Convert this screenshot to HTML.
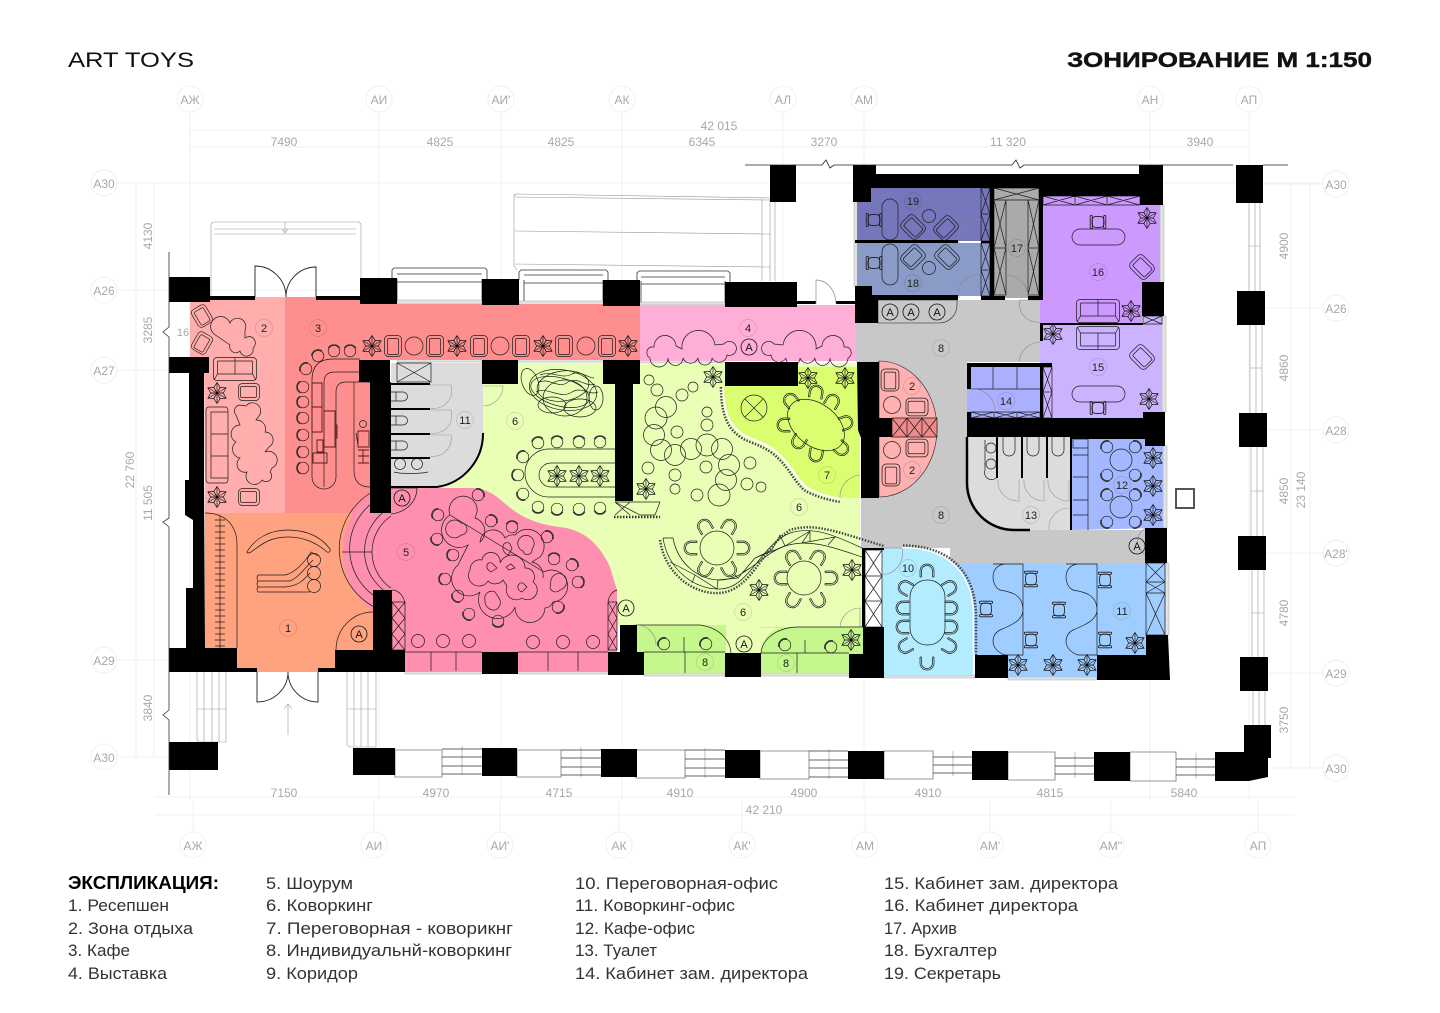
<!DOCTYPE html>
<html lang="ru"><head><meta charset="utf-8"><title>ART TOYS</title>
<style>
html,body{margin:0;padding:0;background:#fff;width:1440px;height:1013px;overflow:hidden}
svg{display:block}
.g{font-family:"Liberation Sans Narrow","Liberation Sans",sans-serif;font-size:12px;fill:#a8a8a8;text-anchor:middle}
.n{font-family:"Liberation Sans Narrow","Liberation Sans",sans-serif;font-size:11px;fill:#222;text-anchor:middle}
.l{font-family:"Liberation Sans","DejaVu Sans",sans-serif;font-size:17px;fill:#333}
.a{font-family:"Liberation Sans",sans-serif;font-size:11px;fill:#111;text-anchor:middle}
.f{fill:none;stroke:#1c1c1c;stroke-width:.7}
.t{fill:none;stroke:#999;stroke-width:.6}
.b{fill:#000}
.fa{fill:none;stroke:#f0f0f0;stroke-width:1}
.d{fill:none;stroke:#8a8a8a;stroke-width:.6}
</style></head><body>
<svg width="1440" height="1013" viewBox="0 0 1440 1013" xmlns="http://www.w3.org/2000/svg">
<defs>
<g id="fl" class="f"><path d="M0 0L-3.2-5.500L0-10.500L3.200-5.500ZM0-2V-10"/><path d="M0 0L-3.2-5.500L0-10.500L3.200-5.500ZM0-2V-10" transform="rotate(60)"/><path d="M0 0L-3.2-5.500L0-10.500L3.200-5.500ZM0-2V-10" transform="rotate(120)"/><path d="M0 0L-3.2-5.500L0-10.500L3.200-5.500ZM0-2V-10" transform="rotate(180)"/><path d="M0 0L-3.2-5.500L0-10.500L3.200-5.500ZM0-2V-10" transform="rotate(240)"/><path d="M0 0L-3.2-5.500L0-10.500L3.200-5.500ZM0-2V-10" transform="rotate(300)"/><circle r="1.300" fill="#000"/></g>
<g id="ac" class="f"><rect x="-8.500" y="-10.500" width="17" height="21" rx="4"/><rect x="-5.500" y="-7.500" width="11" height="16" rx="1.500"/></g>
<g id="st"><circle r="5.800" fill="none" stroke="#1c1c1c" stroke-width=".7"/><path d="M-5.800 2A6.300 6.300 0 0 1 2-5.800" fill="none" stroke="#333" stroke-width="1.700"/></g>
<g id="cr" class="f"><path d="M-7 5V-1A7 7 0 0 1 7-1V5M-5.500 5V-1A5.500 5.500 0 0 1 5.500-1V5M-7 5H-5.500M5.500 5H7"/></g>
<g id="oc" class="f" transform="scale(1.2)"><rect x="-5" y="-4.500" width="10" height="9" rx="3"/><rect x="-6.500" y="-5.500" width="1.800" height="11" rx=".9"/><rect x="4.700" y="-5.500" width="1.800" height="11" rx=".9"/></g>
<g id="sf" class="f"><rect x="-21.500" y="-11.500" width="43" height="23" rx="3.500"/><path d="M-17.500-8V5H17.500V-8M-17.500-8H17.500M0-11.500V5M-17.500 5L-21 11M17.500 5L21 11"/></g>
<g id="m"><circle r="8.500" fill="none" stroke="#000" stroke-opacity=".15" stroke-width=".7"/></g>
<g id="A"><circle r="8" fill="none" stroke="#111" stroke-width=".8"/></g>
</defs>

<!-- grid -->
<g class="fa">
<path d="M190 108V800M379 108V800M501 108V800M622 108V800M783 108V300M864 108V800M1150 108V800M1249 108V800"/>
<path d="M118 183H1320M118 290H360M118 370H170M118 660H170M118 757H170M1260 184H1325M1250 308H1325M1250 430H1325M1250 553H1325M1250 673H1325M1250 768H1325"/>
<path d="M190 130H1250M190 147H1250M155 797H1295M155 815H1295M136 183V757M154 183V757M1291 184V768M1310 184V768"/>
<path d="M193 800V836M374 800V836M500 800V836M619 800V836M742 800V836M865 800V836M990 800V836M1111 800V836M1258 800V836"/>
</g>
<g fill="#fff" stroke="#f0f0f0" stroke-width="1">
<circle cx="190" cy="99" r="13"/><circle cx="379" cy="99" r="13"/><circle cx="501" cy="99" r="13"/><circle cx="622" cy="99" r="13"/><circle cx="783" cy="99" r="13"/><circle cx="864" cy="99" r="13"/><circle cx="1150" cy="99" r="13"/><circle cx="1249" cy="99" r="13"/>
<circle cx="193" cy="845" r="13"/><circle cx="374" cy="845" r="13"/><circle cx="500" cy="845" r="13"/><circle cx="619" cy="845" r="13"/><circle cx="742" cy="845" r="13"/><circle cx="865" cy="845" r="13"/><circle cx="990" cy="845" r="13"/><circle cx="1111" cy="845" r="13"/><circle cx="1258" cy="845" r="13"/>
<circle cx="104" cy="183" r="13"/><circle cx="104" cy="290" r="13"/><circle cx="104" cy="370" r="13"/><circle cx="104" cy="660" r="13"/><circle cx="104" cy="757" r="13"/>
<circle cx="1336" cy="184" r="13"/><circle cx="1336" cy="308" r="13"/><circle cx="1336" cy="430" r="13"/><circle cx="1336" cy="553" r="13"/><circle cx="1336" cy="673" r="13"/><circle cx="1336" cy="768" r="13"/>
</g>
<g class="g">
<text x="190" y="104">АЖ</text><text x="379" y="104">АИ</text><text x="501" y="104">АИ'</text><text x="622" y="104">АК</text><text x="783" y="104">АЛ</text><text x="864" y="104">АМ</text><text x="1150" y="104">АН</text><text x="1249" y="104">АП</text>
<text x="193" y="850">АЖ</text><text x="374" y="850">АИ</text><text x="500" y="850">АИ'</text><text x="619" y="850">АК</text><text x="742" y="850">АК'</text><text x="865" y="850">АМ</text><text x="990" y="850">АМ'</text><text x="1111" y="850">АМ''</text><text x="1258" y="850">АП</text>
<text x="104" y="188">А30</text><text x="104" y="295">А26</text><text x="104" y="375">А27</text><text x="104" y="665">А29</text><text x="104" y="762">А30</text>
<text x="1336" y="189">А30</text><text x="1336" y="313">А26</text><text x="1336" y="435">А28</text><text x="1336" y="558">А28'</text><text x="1336" y="678">А29</text><text x="1336" y="773">А30</text>
<text x="719" y="130">42 015</text><text x="284" y="146">7490</text><text x="440" y="146">4825</text><text x="561" y="146">4825</text><text x="702" y="146">6345</text><text x="824" y="146">3270</text><text x="1008" y="146">11 320</text><text x="1200" y="146">3940</text>
<text x="284" y="797">7150</text><text x="436" y="797">4970</text><text x="559" y="797">4715</text><text x="680" y="797">4910</text><text x="804" y="797">4900</text><text x="928" y="797">4910</text><text x="1050" y="797">4815</text><text x="1184" y="797">5840</text><text x="764" y="814">42 210</text>
<text transform="translate(152,236) rotate(-90)">4130</text><text transform="translate(152,330) rotate(-90)">3285</text><text transform="translate(152,503) rotate(-90)">11 505</text><text transform="translate(152,708) rotate(-90)">3840</text><text transform="translate(134,470) rotate(-90)">22 760</text>
<text transform="translate(1288,246) rotate(-90)">4900</text><text transform="translate(1288,368) rotate(-90)">4860</text><text transform="translate(1288,491) rotate(-90)">4850</text><text transform="translate(1288,613) rotate(-90)">4780</text><text transform="translate(1288,720) rotate(-90)">3750</text><text transform="translate(1305,490) rotate(-90)">23 140</text>
<text x="183" y="336" font-size="11">16</text>
</g>

<!-- outside light elements -->
<g class="t">
<path d="M211 297V224L213 222H359L361 224V297M214 229H356M214 234H356M285 222V232M282 229L285 233L288 229"/>
<path d="M514 196L516 194L775 198M515 197L770 200M515 231L770 234M515 264L770 267M514 194V266L517 270M762 199V281M770 199V281M775 199V281"/>
<path d="M288 735V704M284 709L288 704L292 709"/>
<path d="M197 672V740L199 742H226V672M204 672V742M212 672V742M219 672V742M197 709H226"/>
<path d="M347 672V745L350 747H376V672M354 672V747M361 672V747M368 672V747M347 709H376"/>
<path d="M1249 203V291M1255 203V291M1260 203V291M1250 325V413M1256 325V413M1262 325V413M1251 447V536M1257 447V536M1263 447V536M1252 570V657M1258 570V657M1264 570V657M1253 691V725M1259 691V725M1265 691V725"/>
<path d="M1249 246H1260M1250 368H1262M1251 491H1263M1252 613H1264"/>
<path d="M462 746V775M581 747V777M705 748V778M829 749V779M953 751V776M1075 752V778M1196 753V779"/>
</g>
<g fill="none" stroke="#333" stroke-width=".8">
<path d="M392 279V270L394 268H485L487 270V279M397 274H482M397 282H482M397 279V300M482 279V300"/>
<path d="M519 280V272L521 270H606L608 272V280M524 275H603M524 283H603M524 280V301M603 280V301"/>
<path d="M637 281V273L639 271H728L730 273V282M641 277H725M641 284H725M641 281V302M725 281V302"/>
<path d="M395 750V777H442V750ZM517 750V777H561V750ZM636 750V778H685V750ZM760 751V779H809V751ZM884 751V779H933V751ZM1008 752V780H1055V752ZM1130 752V781H1176V752Z" stroke="#777"/>
<path d="M442 749H482M442 757H482M442 766H482M442 774H482M561 750H601M561 758H601M561 767H601M561 775H601M685 750H725M685 759H725M685 768H725M685 776H725M809 751H848M809 760H848M809 768H848M809 777H848M933 757H972M933 765H972M933 773H972M1055 758H1094M1055 766H1094M1055 774H1094M1176 759H1215M1176 767H1215M1176 775H1215"/>
</g>
<!-- window strips -->
<g fill="#e2e2e2" stroke="#999" stroke-width=".4">
<rect x="405" y="671" width="77" height="3"/><rect x="518" y="671" width="90" height="3"/><rect x="644" y="673" width="81" height="3"/><rect x="761" y="673" width="88" height="3"/><rect x="884" y="675" width="91" height="3"/><rect x="1008" y="677" width="89" height="3"/>
<rect x="854" y="203" width="4" height="83"/><rect x="1160" y="205" width="4" height="78"/><rect x="1162" y="316" width="4" height="96"/><rect x="1163" y="446" width="4" height="82"/><rect x="1165" y="563" width="4" height="72"/>
<rect x="397" y="359" width="85" height="3"/><rect x="518" y="359" width="85" height="3"/><rect x="640" y="360" width="85" height="3"/>
<rect x="397" y="300" width="85" height="4"/><rect x="519" y="301" width="84" height="4"/><rect x="640" y="302" width="85" height="3"/>
</g>

<!-- zones -->
<path fill="#e9ffb5" d="M440 363H860V548H862V654H636V625H617V590H440Z"/>
<path fill="#ffadad" d="M190 297H285V514H205L204 357H190Z"/>
<path fill="#ff8f8f" d="M285 297H361V304H640V360H372V514H285Z"/>
<path fill="#ffaed8" d="M640 305H857V361H640Z"/>
<path fill="#ffa280" d="M205 513H373V650H335V668H318V672H257V668H237V648H205Z"/>
<path fill="#ff8fae" d="M373 492L391 488H470C490 487 500 500 513 510C530 522 545 525 560 527C585 530 600 545 610 567L617 590V652H608V672H405V652H373V611A73.600 73.600 0 0 1 373 492Z"/>
<path fill="#dcdcdc" d="M391 363H483V433A54 54 0 0 1 437 487H391Z"/>
<path fill="#d9ff70" d="M726 386H798V367H857L860 430V498H840C830 498 816 493 806 487C795 477 790 462 774 450C760 440 750 437 741 433C730 425 725 413 724 387Z"/>
<path fill="#c8c8c8" d="M856 300H1040V362H967V483A47 47 0 0 0 1014 530H1146V563H950V548H861V498H880V362H856Z"/>
<path fill="#ffb0b0" stroke="#222" stroke-width=".6" d="M879 361A58 68 0 0 1 937 430A58 68 0 0 1 879 497Z"/>
<path fill="#c8c8c8" stroke="#222" stroke-width=".6" d="M878 300H957V305A18 18 0 0 1 939 323H878Z"/>
<path fill="#7676bd" d="M871 188H990V241H857V202H871Z"/>
<path fill="#8a9bc8" d="M857 243H990V296H871V286H857Z"/>
<path fill="#aaa" d="M994 188H1039V298H994Z"/>
<path fill="#cc99ff" d="M1043 196H1140V205H1160V283H1142V323H1040V300H1043Z"/>
<path fill="#ccb3ff" d="M1040 325H1143V316H1162V418H1040Z"/>
<path fill="#aab0ff" d="M967 363H1040V418H967Z"/>
<path fill="#ccb3ff" d="M1043 367H1052V418H1043Z"/>
<path fill="#dcdcdc" d="M969 437H1070V530H1014A47 47 0 0 1 967 483Z"/>
<path fill="#a3b8ff" d="M1072 439H1145V446H1163V528L1072 530Z"/>
<path fill="#a0cdff" d="M950 563H1165V635H1146V655H1097V677H1008V655H975Z"/>
<path fill="#b3ebff" d="M882 548H902C940 548 972 565 973 615V675H884V654H882Z"/>
<path fill="#c5f78c" d="M636 625H726V652H725V673H644V652H636ZM761 627H863V654H849V673H761Z"/>
<path fill="#e9ffb5" d="M726 628C735 632 742 640 744 650V653H726ZM761 653V650C763 640 768 632 779 628H761Z"/>

<!-- zone 2 furniture -->
<use href="#ac" transform="translate(202,316) rotate(-30) scale(.95)"/>
<use href="#ac" transform="translate(202,343) rotate(30) scale(.95)"/>
<path class="f" d="M214 334A10 10 0 1 1 230 323A8 8 0 0 1 245 330L245 338A6 6 0 0 1 253 348A6 6 0 0 1 240 351A6 6 0 0 1 230 345Z"/>
<use href="#sf" transform="translate(235,369)"/>
<use href="#fl" x="217" y="393"/><use href="#fl" x="217" y="497"/>
<use href="#ac" transform="translate(249,392) rotate(90) scale(1)"/><use href="#ac" transform="translate(249,497) rotate(90) scale(1)"/>
<path class="f" d="M206 410A3 3 0 0 1 209 407H225A3 3 0 0 1 228 410V480A3 3 0 0 1 225 483H209A3 3 0 0 1 206 480ZM211 412H228V478H211ZM211 434H228M211 456H228"/>
<path class="f" d="M236 415A6 6 0 0 1 240 405L246 406A8 8 0 0 1 259 416L256 420A9 9 0 0 1 265 432A8 8 0 0 1 269 447L265 452A7 7 0 0 1 272 468L270 472A5 5 0 0 1 262 480A8 8 0 0 1 247 472A8 8 0 0 1 240 458A9 9 0 0 1 236 442A9 9 0 0 1 240 425Z"/>

<!-- zone 3 furniture -->
<use href="#st" transform="translate(350,351) rotate(45)"/><use href="#st" transform="translate(334,351) rotate(45)"/><use href="#st" transform="translate(318,356) rotate(20)"/><use href="#st" transform="translate(306,369)"/><use href="#st" transform="translate(303,387) rotate(-45)"/><use href="#st" transform="translate(303,402) rotate(-45)"/><use href="#st" transform="translate(303,418) rotate(-45)"/><use href="#st" transform="translate(303,435) rotate(-45)"/><use href="#st" transform="translate(303,452) rotate(-45)"/><use href="#st" transform="translate(303,468) rotate(-45)"/>
<path class="f" d="M360 359H333Q312 359 312 380V477A12 12 0 0 0 336 477V392Q336 382 346 382H370M360 372H335Q324 372 324 382V411M324 447V487M354 382V470Q354 487 370 487"/>
<path fill="none" stroke="#5a1a1a" stroke-width=".9" d="M312 383H322V432H312ZM312 407H322M324 411H335V447H324ZM335 425H337V438H335ZM317 440H323V452H317ZM313 453H327V463H313ZM358 431H369V447H358ZM356 433L358 445M358 450H369M358 456H369M358 463H369M363 450V463"/>
<circle class="f" cx="363" cy="424" r="3.500"/>
<use href="#fl" x="372" y="346"/><use href="#fl" x="457" y="346"/><use href="#fl" x="543" y="346"/><use href="#fl" x="628" y="346"/>
<use href="#ac" x="393" y="346"/><use href="#ac" x="435" y="346"/><use href="#ac" x="479" y="346"/><use href="#ac" x="521" y="346"/><use href="#ac" x="564" y="346"/><use href="#ac" x="607" y="346"/>
<g class="f"><circle cx="414" cy="346" r="9"/><circle cx="500" cy="346" r="9"/><circle cx="586" cy="346" r="9"/></g>

<!-- zone 4 -->
<path class="f" d="M650 358A6 6 0 0 1 651 347L654 347A11 11 0 0 1 676 346L682 349A13 13 0 0 1 715 345L724 344A7 7 0 1 1 727 355A8 8 0 0 1 712 358A7 7 0 0 1 698 358A8 8 0 0 1 683 358A7 7 0 0 1 668 358A9 9 0 0 1 650 358Z"/>
<path class="f" transform="translate(1498,0) scale(-1,1)" d="M650 358A6 6 0 0 1 651 347L654 347A11 11 0 0 1 676 346L682 349A13 13 0 0 1 715 345L724 344A7 7 0 1 1 727 355A8 8 0 0 1 712 358A7 7 0 0 1 698 358A8 8 0 0 1 683 358A7 7 0 0 1 668 358A9 9 0 0 1 650 358Z"/>

<!-- toilet 11 -->
<g class="f">
<path d="M397 363H431V382H397ZM397 363L431 382M431 363L397 382"/>
<path d="M391 392H403A4.500 4.500 0 0 1 403 401H391M391 416H403A4.500 4.500 0 0 1 403 425H391M391 441H403A4.500 4.500 0 0 1 403 450H391M396 392V401M396 416V425M396 441V450"/>
<circle cx="400" cy="464" r="5.500"/><circle cx="417" cy="464" r="5.500"/>
<path d="M394 472C400 474 420 474 428 472"/>
</g>
<path class="b" d="M391 383H430V385H391ZM391 408H430V410H391ZM391 433H430V435H391ZM391 457H430V459H391Z"/>
<g class="t"><path d="M430 385H451A18 18 0 0 1 430 408M430 410H451A18 18 0 0 1 430 433M430 435H451A18 18 0 0 1 430 456M483 386H503A20 20 0 0 1 483 406"/></g>

<!-- zone 6 left table -->
<g class="f">
<path d="M525 473A24 24 0 0 1 549 449H615M549 497A24 24 0 0 1 525 473M549 497H615M551 463H615M551 487H615M551 463A12 12 0 0 0 551 487"/>
<ellipse cx="563" cy="390" rx="34" ry="20" transform="rotate(10 563 390)"/>
<ellipse cx="563" cy="386" rx="26" ry="15" transform="rotate(-8 563 386)"/>
<ellipse cx="560" cy="392" rx="30" ry="14" transform="rotate(15 560 392)"/>
<ellipse cx="565" cy="398" rx="22" ry="18"/>
<path d="M538 383C548 376 558 390 568 382C578 376 586 388 595 384M536 392C548 386 560 400 572 392C582 386 590 396 598 392M540 375C552 370 562 380 572 374C580 370 588 378 594 378"/>
<ellipse cx="552" cy="405" rx="14" ry="8"/><ellipse cx="580" cy="408" rx="16" ry="9"/><ellipse cx="530" cy="382" rx="8" ry="14" transform="rotate(-20 530 382)"/><ellipse cx="596" cy="398" rx="7" ry="12"/>
</g>
<use href="#fl" x="557" y="476"/><use href="#fl" x="579" y="476"/><use href="#fl" x="600" y="476"/>
<use href="#st" transform="translate(538,443) rotate(30)"/><use href="#st" transform="translate(557,442) rotate(45)"/><use href="#st" transform="translate(579,442) rotate(45)"/><use href="#st" transform="translate(600,442) rotate(45)"/><use href="#st" transform="translate(523,457)"/><use href="#st" transform="translate(518,475) rotate(-45)"/><use href="#st" transform="translate(523,494) rotate(-90)"/><use href="#st" transform="translate(538,507) rotate(225)"/><use href="#st" transform="translate(557,509) rotate(225)"/><use href="#st" transform="translate(579,509) rotate(225)"/><use href="#st" transform="translate(600,508) rotate(225)"/>
<path class="f" d="M615 502H660L655 515H640ZM615 502L630 515M630 502L615 515"/>
<path d="M614 517H660" fill="none" stroke="#333" stroke-width="2.500" stroke-dasharray="1.500 1.500"/>

<!-- circle cluster -->
<g class="f">
<circle cx="649" cy="380" r="5"/><circle cx="657" cy="390" r="6"/><circle cx="682" cy="395" r="6"/><circle cx="693" cy="387" r="5"/><circle cx="666" cy="407" r="10.500"/><circle cx="656" cy="418" r="11"/><circle cx="654" cy="435" r="10.500"/><circle cx="661" cy="450" r="10.500"/><circle cx="677" cy="432" r="6"/><circle cx="675" cy="455" r="10.500"/><circle cx="691" cy="449" r="10.500"/><circle cx="707" cy="445" r="11"/><circle cx="722" cy="449" r="10.500"/><circle cx="729" cy="465" r="10.500"/><circle cx="726" cy="480" r="10.500"/><circle cx="707" cy="412" r="5"/><circle cx="707" cy="425" r="6"/><circle cx="706" cy="467" r="6"/><circle cx="750" cy="463" r="6"/><circle cx="648" cy="468" r="6"/><circle cx="675" cy="475" r="6"/><circle cx="675" cy="489" r="5"/><circle cx="697" cy="495" r="6"/><circle cx="719" cy="495" r="11"/><circle cx="747" cy="484" r="6"/><circle cx="761" cy="487" r="5"/>
</g>
<use href="#fl" x="713" y="377"/><use href="#fl" x="808" y="378"/><use href="#fl" x="845" y="378"/><use href="#fl" x="646" y="489"/>
<!-- wave zone 7 border -->
<path d="M723 387C723 413 730 425 741 433C750 440 760 440 774 450C790 462 795 477 806 487C816 493 828 497 840 499" fill="none" stroke="#fff" stroke-width="2"/>
<path d="M721 387C721 415 728 428 739 436C748 443 758 443 772 453C788 465 793 480 804 490C814 496 828 500 840 502" fill="none" stroke="#444" stroke-width="2.500" stroke-dasharray="1.500 1.500"/>
<!-- zone 7 -->
<g class="f"><circle cx="754" cy="408" r="13"/><path d="M745 399L763 417M763 399L745 417"/>
<ellipse cx="816" cy="425" rx="32" ry="21" transform="rotate(38 816 425)"/></g>
<use href="#cr" transform="translate(791,401) rotate(-40)"/><use href="#cr" transform="translate(816,393) rotate(10)"/><use href="#cr" transform="translate(832,402) rotate(30)"/><use href="#cr" transform="translate(845,423) rotate(70)"/><use href="#cr" transform="translate(841,448) rotate(130)"/><use href="#cr" transform="translate(816,454) rotate(190)"/><use href="#cr" transform="translate(799,441) rotate(210)"/><use href="#cr" transform="translate(785,425) rotate(270)"/>
<!-- zone 6 lower -->
<g class="f"><circle cx="717" cy="548" r="17"/><circle cx="804" cy="578" r="17"/>
<path d="M663 538C668 570 695 590 720 589C750 588 760 545 790 533C815 525 840 538 862 548M663 538H673M673 538C678 565 700 580 720 580C745 580 760 555 785 546C810 538 835 548 862 557"/>
<path d="M670 562L695 575M692 583L695 575L717 589L718 580L738 578L735 575M738 578L755 558M742 573L750 568M755 558L772 550L780 535L785 546L810 531L802 543L835 537L828 545M810 531L810 542M755 558L785 546"/></g>
<path d="M660 540C665 575 695 595 720 593C752 590 762 548 790 530C815 522 840 533 884 546" fill="none" stroke="#444" stroke-width="2.500" stroke-dasharray="1.500 1.500"/>
<use href="#cr" transform="translate(705,527) rotate(-30)"/><use href="#cr" transform="translate(729,527) rotate(30)"/><use href="#cr" transform="translate(742,548) rotate(90)"/><use href="#cr" transform="translate(729,569) rotate(150)"/><use href="#cr" transform="translate(705,569) rotate(210)"/><use href="#cr" transform="translate(692,548) rotate(270)"/>
<use href="#cr" transform="translate(793,558) rotate(-30)"/><use href="#cr" transform="translate(818,558) rotate(30)"/><use href="#cr" transform="translate(830,578) rotate(90)"/><use href="#cr" transform="translate(818,600) rotate(150)"/><use href="#cr" transform="translate(793,600) rotate(210)"/><use href="#cr" transform="translate(782,578) rotate(270)"/>
<use href="#fl" x="852" y="570"/><use href="#fl" x="759" y="590"/><use href="#fl" x="851" y="640"/>

<!-- zone 5 -->
<g class="f">
<path d="M374 491A65.600 65.600 0 0 0 391 613M382 497A57.600 57.600 0 0 0 391 604M385 511A49.600 49.600 0 0 0 391 595M342 552H372"/>
<path d="M391 516A43.600 43.600 0 0 0 391 588M391 488H417C417 500 408 512 391 514"/>
<path d="M450 515A14 14 0 1 1 477 512L475 518A14 14 0 0 1 480 542A13 13 0 0 1 505 538A12 12 0 0 1 515 535A16 16 0 0 1 540 557L532 562A14 14 0 0 1 543 578M544 572A16 16 0 1 1 553 602A10 10 0 0 1 545 608A15 15 0 0 1 515 607A17 17 0 0 1 480 592A14 14 0 0 1 458 565L468 545A16 16 0 0 1 450 515Z"/>
<path d="M448 523A8.500 8.500 0 0 1 461 523A6 6 0 1 1 461 535A8.500 8.500 0 0 1 448 523ZM520 538A8 8 0 1 1 532 549A4.500 4.500 0 1 1 523 551A8 8 0 0 1 520 538ZM551 580A8 8 0 0 1 566 578A9 9 0 0 1 560 590A6 6 0 0 1 550 588ZM485 600A7 7 0 0 1 495 592L499 598A8 8 0 0 1 495 610A9 9 0 0 1 485 600Z"/>
<path d="M470 570A10 10 0 0 1 482 560A8 8 0 0 1 500 563A13 13 0 0 1 525 568A9 9 0 0 1 533 582A9 9 0 0 1 522 598A10 10 0 0 1 507 586L503 580A10 10 0 0 1 488 581A10 10 0 0 1 470 570Z"/>
<path d="M503 546A4 4 0 0 1 510 544L512 549L508 555Q502 552 503 546ZM487 565A3.500 3.500 0 0 1 493 564L497 568L491 572Q486 569 487 565ZM506 567L511 564L515 568L509 570ZM518 586A4 4 0 0 1 523 583L527 587L522 592Q517 590 518 586Z"/>
<circle cx="418" cy="641" r="6.500"/><circle cx="443" cy="641" r="6.500"/><circle cx="469" cy="641" r="6.500"/><circle cx="533" cy="642" r="6.500"/><circle cx="563" cy="642" r="6.500"/><circle cx="593" cy="642" r="6.500"/>
<path d="M431 652V671M456 652V671M548 652V671M578 652V671M405 652H482M518 652H608"/>
<path d="M392 590A13 16 0 0 1 405 606V650M392 602H405V650H392ZM392 602L405 618M405 602L392 618M392 618L405 634M405 618L392 634M392 634L405 650M405 634L392 650"/>
<path d="M617 590A12 14 0 0 0 608 604V650M608 602H617V650H608ZM608 602L617 618M617 602L608 618M608 618L617 634M617 618L608 634M608 634L617 650M617 634L608 650"/>
<path d="M336 650A37 38 0 0 1 373 612"/>
</g>
<use href="#st" transform="translate(478,495) rotate(90)"/><use href="#st" transform="translate(438,515) rotate(-15)"/><use href="#st" transform="translate(491,521) rotate(90)"/><use href="#st" transform="translate(512,527) rotate(45)"/><use href="#st" transform="translate(547,537) rotate(90)"/><use href="#st" transform="translate(437,539) rotate(-90)"/><use href="#st" transform="translate(453,555) rotate(-45)"/><use href="#st" transform="translate(554,559) rotate(45)"/><use href="#st" transform="translate(572,565) rotate(90)"/><use href="#st" transform="translate(445,579) rotate(-45)"/><use href="#st" transform="translate(578,582) rotate(135)"/><use href="#st" transform="translate(458,596) rotate(-90)"/><use href="#st" transform="translate(469,614) rotate(-90)"/><use href="#st" transform="translate(558,607) rotate(180)"/><use href="#st" transform="translate(498,621) rotate(225)"/>

<!-- zone 1 -->
<g class="f">
<path d="M205 513C225 513 237 525 237 545V648M220 516V648"/>
<path d="M215 520h10M215 526h10M215 532h10M215 538h10M215 544h10M215 550h10M215 556h10M215 562h10M215 568h10M215 574h10M215 580h10M215 586h10M215 592h10M215 598h10M215 604h10M215 610h10M215 616h10M215 622h10M215 628h10M215 634h10M215 640h10M215 646h10"/>
<path d="M247 552C255 538 270 530 288 530C308 530 322 538 330 549Q331 553 327 552C318 544 306 537 288 537C270 537 262 544 251 552Q247 554 247 552Z"/>
<path d="M258 575H285C295 573 305 562 311 552L318 556M258 575Q256 578 258 581H290C298 578 305 568 313 560M258 581Q256 584 258 587H285C298 586 304 580 310 573M258 587Q256 590 258 592H310"/>
<circle cx="314" cy="560" r="6.500"/><circle cx="314" cy="573" r="6.500"/><circle cx="314" cy="586" r="6.500"/>
</g>

<!-- zone 12/13 -->
<g class="f"><circle cx="1121" cy="460" r="11"/><circle cx="1121" cy="507" r="11"/>
<path d="M1073 455H1088M1073 477H1088M1073 500H1088M1073 515H1088M1088 439V530M1073 439H1088V448H1073Z"/>
</g>
<use href="#st" transform="translate(1107,447)"/><use href="#st" transform="translate(1135,447) rotate(90)"/><use href="#st" transform="translate(1107,475) rotate(-90)"/><use href="#st" transform="translate(1135,475) rotate(180)"/><use href="#st" transform="translate(1107,495)"/><use href="#st" transform="translate(1135,495) rotate(90)"/><use href="#st" transform="translate(1107,522) rotate(-90)"/><use href="#st" transform="translate(1135,522) rotate(180)"/>
<g class="f">
<path d="M1003 437V450A6 6 0 0 0 1015 450V437M1027 437V450A6 6 0 0 0 1039 450V437M1052 437V450A6 6 0 0 0 1064 450V437"/>
<circle cx="991" cy="448" r="5"/><circle cx="991" cy="464" r="5"/>
<path d="M985 440V470A7 7 0 0 0 996 478"/>
</g>
<g class="t"><path d="M998 479A20 20 0 0 0 1019 501V480M1024 479A20 20 0 0 0 1044 501V480M1048 479A20 20 0 0 0 1069 501V480M1069 508A20 20 0 0 0 1049 530"/></g>
<path class="b" d="M996 437H998V478H996ZM1021 437H1023V478H1021ZM1046 437H1048V478H1046Z"/>
<!-- rooms furniture -->
<g class="f">
<rect x="882" y="199" width="16" height="41" rx="8"/><rect x="882" y="244" width="16" height="41" rx="8"/>
<circle cx="929" cy="216" r="6.500"/><circle cx="929" cy="268" r="6.500"/>
<rect x="1072" y="229" width="53" height="16" rx="8"/><rect x="1072" y="386" width="53" height="16" rx="8"/>
<circle cx="892" cy="405" r="8.500"/><circle cx="892" cy="450" r="8.500"/>
<rect x="910" y="580" width="35" height="65" rx="17"/>
<path d="M993 564H1023V655H1005C990 650 990 635 1000 630C1012 625 1023 620 1023 610C1023 595 1012 592 1000 590C990 585 990 565 1005 564ZM1066 564H1097V655H1078C1063 650 1063 635 1073 630C1085 625 1097 620 1097 610C1097 595 1085 592 1073 590C1063 585 1063 565 1078 564Z"/>
</g>
<use href="#oc" x="874" y="220"/><use href="#oc" x="874" y="263"/>
<use href="#ac" transform="translate(913,227) rotate(-45) scale(1.05)"/><use href="#ac" transform="translate(946,228) rotate(45) scale(1.05)"/><use href="#ac" transform="translate(913,257) rotate(45) scale(1.05)"/><use href="#ac" transform="translate(947,257) rotate(-45) scale(1.05)"/>
<use href="#ac" transform="translate(1142,267) rotate(-45) scale(1.05)"/><use href="#ac" transform="translate(1142,357) rotate(-45) scale(1.05)"/>
<use href="#sf" transform="translate(1098,311)"/><use href="#sf" transform="translate(1098,338) rotate(180)"/>
<use href="#oc" x="1098" y="222"/><use href="#oc" x="1098" y="408"/>
<use href="#fl" x="1147" y="218"/><use href="#fl" x="1131" y="311"/><use href="#fl" x="1053" y="334"/><use href="#fl" x="1149" y="399"/><use href="#fl" x="1153" y="458"/><use href="#fl" x="1153" y="486"/><use href="#fl" x="1153" y="515"/>
<use href="#fl" x="1135" y="643"/><use href="#fl" x="1018" y="665"/><use href="#fl" x="1053" y="665"/><use href="#fl" x="1087" y="665"/>
<use href="#ac" transform="translate(890,380) scale(1.05)"/><use href="#ac" transform="translate(917,407) rotate(90) scale(1.05)"/><use href="#ac" transform="translate(917,448) rotate(90) scale(1.05)"/><use href="#ac" transform="translate(891,475) scale(1.05)"/>
<use href="#cr" transform="translate(927,572)"/><use href="#cr" transform="translate(906,588) rotate(-60)"/><use href="#cr" transform="translate(904,608) rotate(-90)"/><use href="#cr" transform="translate(904,627) rotate(-90)"/><use href="#cr" transform="translate(906,646) rotate(-120)"/><use href="#cr" transform="translate(949,588) rotate(60)"/><use href="#cr" transform="translate(950,608) rotate(90)"/><use href="#cr" transform="translate(950,627) rotate(90)"/><use href="#cr" transform="translate(949,646) rotate(120)"/><use href="#cr" transform="translate(927,662) rotate(180)"/>
<use href="#oc" transform="translate(1031,579) rotate(90)"/><use href="#oc" transform="translate(1031,640) rotate(90)"/><use href="#oc" transform="translate(986,609) rotate(90)"/><use href="#oc" transform="translate(1059,610) rotate(90)"/><use href="#oc" transform="translate(1105,580) rotate(90)"/><use href="#oc" transform="translate(1105,640) rotate(90)"/>

<!-- crossed storages -->
<g class="f">
<path fill="#f08a8a" style="fill:#f08a8a" d="M892 418H937V437H892Z"/>
<path d="M892 418L907 437M907 418L892 437M907 418L922 437M922 418L907 437M922 418L937 437M937 418L922 437M907 418V437M922 418V437"/>
<path d="M981 188H990V214H981ZM981 188L990 214M990 188L981 214M981 214H990V241H981ZM981 214L990 241M990 214L981 241M981 243H990V270H981ZM981 243L990 270M990 243L981 270M981 270H990V296H981ZM981 270L990 296M990 270L981 296"/>
<path d="M994 188H1039V200H994ZM994 188L1039 200M1039 188L994 200M994 200H1006V295H994ZM994 200L1006 248M1006 200L994 248M994 248L1006 295M1006 248L994 295M994 248H1006M1028 200H1039V295H1028ZM1028 200L1039 248M1039 200L1028 248M1028 248L1039 295M1039 248L1028 295M1028 248H1039"/>
<path d="M1043 196H1140V205H1043ZM1075 196V205M1107 196V205M1043 196L1075 205M1075 196L1043 205M1075 196L1107 205M1107 196L1075 205M1107 196L1140 205M1140 196L1107 205"/>
<path d="M1143 316H1162V324H1143ZM1143 316L1162 324M1162 316L1143 324"/>
<path d="M1043 367H1052V392H1043ZM1043 367L1052 392M1052 367L1043 392M1043 392H1052V418H1043ZM1043 392L1052 418M1052 392L1043 418"/>
<path d="M971 412H1040V418H971ZM994 412V418M1017 412V418M971 412L994 418M994 412L971 418M994 412L1017 418M1017 412L994 418M1017 412L1040 418M1040 412L1017 418"/>
<path d="M993 367V389M1017 367V389M971 389H1040"/>
<path d="M865 550H882V627H865ZM865 550L882 576M882 550L865 576M865 576H882M865 576L882 601M882 576L865 601M865 601H882M865 601L882 627M882 601L865 627"/>
<path d="M1146 563H1165V635H1146ZM1146 563L1165 582M1165 563L1146 582M1146 582H1165M1146 582L1165 593M1165 582L1146 593M1146 593H1165M1146 593L1165 635M1165 593L1146 635"/>
<path d="M644 652H725M685 652V673M761 653H849M797 653V673"/>
<path d="M636 625H700C720 628 730 640 731 653M863 627H797C775 628 762 640 761 653"/>
<path d="M684 637V652M805 640V653"/>
</g>
<use href="#st" x="664" y="644"/><use href="#st" x="706" y="644"/><use href="#st" x="785" y="645"/><use href="#st" x="831" y="647"/>

<!-- door arcs -->
<g class="d">
<path d="M959 243V232A22 22 0 0 1 981 220M959 298V287A22 22 0 0 1 981 275M1040 300H1020A18 18 0 0 0 1040 322M1040 342A22 22 0 0 0 1019 362M967 389H975A22 22 0 0 1 995 412M840 498A22 22 0 0 1 860 475M1005 275A22 22 0 0 1 1028 296"/>
<path d="M882 548H902A22 22 0 0 1 882 575M634 625A20 20 0 0 1 656 645M860 628V608A20 20 0 0 0 840 628"/>
<path d="M1146 528A15 15 0 0 0 1146 555"/>
</g>

<!-- bold curves -->
<path d="M967 437V483A47 47 0 0 0 1014 530H1030" fill="none" stroke="#000" stroke-width="2.500"/>
<path d="M483 433A54 54 0 0 1 437 487H391" fill="none" stroke="#000" stroke-width="2"/>
<path d="M902 547.500C940 547.500 972.500 565 973.500 615V655" fill="none" stroke="#fff" stroke-width="1.500"/>
<path d="M903 545.500C942 545.500 975 565 976 615V655" fill="none" stroke="#444" stroke-width="2.500" stroke-dasharray="1.500 1.500"/>

<!-- black walls -->
<g class="b">
<path d="M169 277H210V296H255V300H210V302H169ZM316 296H360V278H397V304H360V300H316ZM482 279H519V305H482ZM603 280H640V306H603ZM725 282H797V301H816V304H797V307H725ZM836 301H857V304H836Z"/>
<path d="M169 357H209V373H204V480L205 648H237V668H257V672H169V648H186V588H193V520L185 515V480H189V373H169Z"/>
<path d="M359 360H390V382H391V513H370V382H359ZM482 360H518V384H482ZM603 360H640V384H633V501H615V384H603ZM725 362H798V386H725Z"/>
<path d="M373 590H392V650H405V672H318V668H335V650H373ZM482 652H518V674H482ZM608 652H620V625H637V652H644V675H608ZM725 653H761V677H725ZM849 654H863V627H884V678H849Z"/>
<path d="M862 548H884V550H865V627H862Z"/>
<path d="M853 165H876V174H1139V165H1163V205H1140V196H1043V300H1028V296H1039V188H994V296H1005V300H981V296H990V188H871V202H853Z"/>
<path d="M855 240H958V243H855ZM981 241H994V243H981ZM855 286H872V295H958V300H878V323H855Z"/>
<path d="M857 362H879V418H892V437H879V498H861V438L858 430Z"/>
<path d="M1142 282H1164V316H1142ZM1040 323H1143V325H1043V341H1040ZM1040 367H1043V418H1040ZM967 363H1052V367H971V389H967Z"/>
<path d="M967 412H971V418H1143V412H1165V446H1145V439H1072V530H1070V437H967Z"/>
<path d="M1145 528H1167V563H1145ZM1146 635H1168L1170 680H1097V655H1146ZM975 655H1008V678H975Z"/>
<path d="M770 165H796V202H770ZM169 742H218V770H169ZM353 748H395V775H353ZM482 748H517V776H482ZM601 749H637V777H601ZM725 750H760V778H725ZM848 751H884V779H848ZM972 751H1008V780H972ZM1094 752H1130V781H1094ZM1215 752H1244V725H1271V758H1268V777L1249 781H1215Z"/>
<path d="M1236 165H1263V203H1236ZM1237 291H1265V325H1237ZM1239 413H1267V447H1239ZM1238 536H1266V570H1238ZM1240 657H1268V691H1240Z"/>
</g>

<!-- top, side outlines -->
<path d="M745 165H822L826 160L830 168L834 165H1012L1016 160L1020 168L1024 165H1233M1263 165H1288" fill="none" stroke="#222" stroke-width=".8"/>
<path d="M169 252V327L163 332L169 337V518L163 522L169 527V710L163 715L169 720V795" fill="none" stroke="#333" stroke-width=".8"/>
<rect x="1176" y="489" width="18" height="19" fill="none" stroke="#555" stroke-width="2"/>

<!-- doors -->
<g fill="none" stroke="#222" stroke-width=".9">
<path d="M255 297V266A31 31 0 0 1 286 297A30 30 0 0 1 316 267V297M257 672V702A31 30 0 0 0 288 672A30 30 0 0 0 318 702V672"/>
</g>
<path d="M816 304V280A20 24 0 0 1 836 304" fill="#fff" stroke="#888" stroke-width=".7"/>

<!-- A markers -->
<g><use href="#A" x="402" y="498"/><use href="#A" x="359" y="634"/><use href="#A" x="626" y="608"/><use href="#A" x="749" y="347"/><use href="#A" x="890" y="312"/><use href="#A" x="911" y="312"/><use href="#A" x="937" y="312"/><use href="#A" x="744" y="644"/><use href="#A" x="1137" y="546"/></g>
<g class="a"><text x="402" y="502">A</text><text x="359" y="638">A</text><text x="626" y="612">A</text><text x="749" y="351">A</text><text x="890" y="316">A</text><text x="911" y="316">A</text><text x="937" y="316">A</text><text x="744" y="648">A</text><text x="1137" y="550">A</text></g>

<!-- room numbers -->
<g>
<use href="#m" x="288" y="628"/><use href="#m" x="264" y="328"/><use href="#m" x="318" y="328"/><use href="#m" x="748" y="328"/><use href="#m" x="406" y="552"/><use href="#m" x="515" y="421"/><use href="#m" x="799" y="507"/><use href="#m" x="743" y="612"/><use href="#m" x="827" y="475"/><use href="#m" x="705" y="662"/><use href="#m" x="786" y="663"/><use href="#m" x="941" y="348"/><use href="#m" x="941" y="515"/><use href="#m" x="912" y="386"/><use href="#m" x="912" y="470"/><use href="#m" x="908" y="568"/><use href="#m" x="465" y="420"/><use href="#m" x="1122" y="611"/><use href="#m" x="1122" y="485"/><use href="#m" x="1031" y="515"/><use href="#m" x="1006" y="401"/><use href="#m" x="1098" y="367"/><use href="#m" x="1098" y="272"/><use href="#m" x="1017" y="248"/><use href="#m" x="913" y="283"/><use href="#m" x="913" y="201"/>
</g>
<g class="n">
<text x="288" y="632">1</text><text x="264" y="332">2</text><text x="318" y="332">3</text><text x="748" y="332">4</text><text x="406" y="556">5</text><text x="515" y="425">6</text><text x="799" y="511">6</text><text x="743" y="616">6</text><text x="827" y="479">7</text><text x="705" y="666">8</text><text x="786" y="667">8</text><text x="941" y="352">8</text><text x="941" y="519">8</text><text x="912" y="390">2</text><text x="912" y="474">2</text><text x="908" y="572">10</text><text x="465" y="424">11</text><text x="1122" y="615">11</text><text x="1122" y="489">12</text><text x="1031" y="519">13</text><text x="1006" y="405">14</text><text x="1098" y="371">15</text><text x="1098" y="276">16</text><text x="1017" y="252">17</text><text x="913" y="287">18</text><text x="913" y="205">19</text>
</g>

<!-- headings -->
<text x="68" y="67" textLength="126" lengthAdjust="spacingAndGlyphs" font-family="Liberation Sans, sans-serif" font-size="21" fill="#111">ART TOYS</text>
<text x="1067" y="67" textLength="305" lengthAdjust="spacingAndGlyphs" font-family="Liberation Sans, sans-serif" font-size="21" font-weight="700" fill="#111" stroke="#111" stroke-width=".4">ЗОНИРОВАНИЕ М 1:150</text>

<!-- legend -->
<text x="68" y="889" textLength="151" lengthAdjust="spacingAndGlyphs" font-family="Liberation Sans, sans-serif" font-size="18" font-weight="700" fill="#000">ЭКСПЛИКАЦИЯ:</text>
<g class="l">
<text x="68" y="911" textLength="101" lengthAdjust="spacingAndGlyphs">1. Ресепшен</text>
<text x="68" y="934" textLength="125" lengthAdjust="spacingAndGlyphs">2. Зона отдыха</text>
<text x="68" y="956" textLength="62" lengthAdjust="spacingAndGlyphs">3. Кафе</text>
<text x="68" y="979" textLength="99" lengthAdjust="spacingAndGlyphs">4. Выставка</text>
<text x="266" y="889" textLength="87" lengthAdjust="spacingAndGlyphs">5. Шоурум</text>
<text x="266" y="911" textLength="107" lengthAdjust="spacingAndGlyphs">6. Коворкинг</text>
<text x="266" y="934" textLength="247" lengthAdjust="spacingAndGlyphs">7. Переговорная - коворикнг</text>
<text x="266" y="956" textLength="246" lengthAdjust="spacingAndGlyphs">8. Индивидуальнй-коворкинг</text>
<text x="266" y="979" textLength="92" lengthAdjust="spacingAndGlyphs">9. Коридор</text>
<text x="575" y="889" textLength="203" lengthAdjust="spacingAndGlyphs">10. Переговорная-офис</text>
<text x="575" y="911" textLength="160" lengthAdjust="spacingAndGlyphs">11. Коворкинг-офис</text>
<text x="575" y="934" textLength="120" lengthAdjust="spacingAndGlyphs">12. Кафе-офис</text>
<text x="575" y="956" textLength="82" lengthAdjust="spacingAndGlyphs">13. Туалет</text>
<text x="575" y="979" textLength="233" lengthAdjust="spacingAndGlyphs">14. Кабинет зам. директора</text>
<text x="884" y="889" textLength="234" lengthAdjust="spacingAndGlyphs">15. Кабинет зам. директора</text>
<text x="884" y="911" textLength="194" lengthAdjust="spacingAndGlyphs">16. Кабинет директора</text>
<text x="884" y="934" textLength="73" lengthAdjust="spacingAndGlyphs">17. Архив</text>
<text x="884" y="956" textLength="113" lengthAdjust="spacingAndGlyphs">18. Бухгалтер</text>
<text x="884" y="979" textLength="117" lengthAdjust="spacingAndGlyphs">19. Секретарь</text>
</g>
</svg>
</body></html>
